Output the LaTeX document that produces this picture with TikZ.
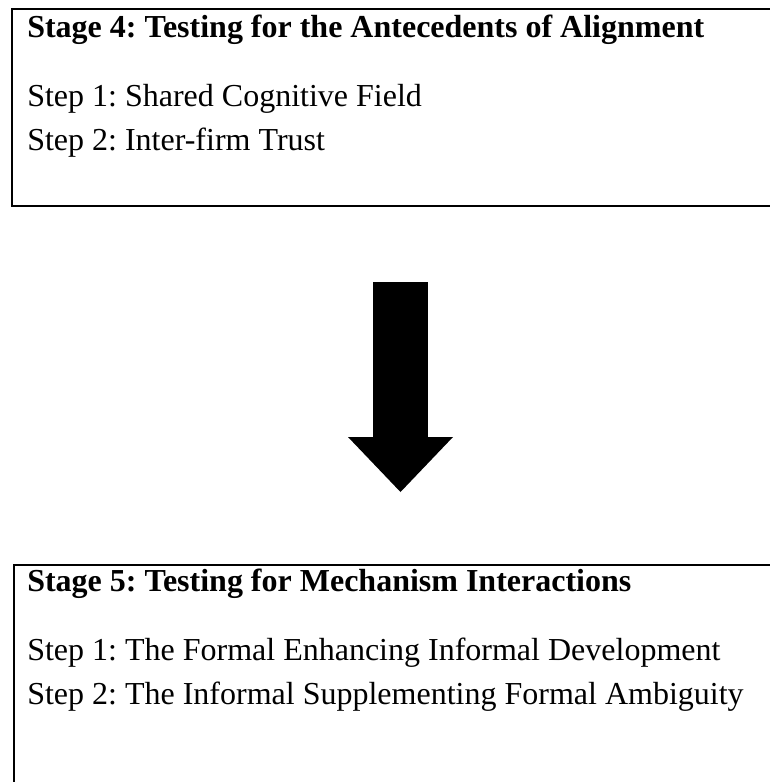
\documentclass[tikz,border=0pt]{standalone}
\usepackage{fontspec}
\setmainfont{Liberation Serif}
\frenchspacing
\usetikzlibrary{arrows.meta,positioning}
\tikzset{stagebox/.style={draw=black,line width=1.4pt,anchor=north west,inner sep=0pt},
 stagehead/.style={anchor=base west,inner sep=0pt,font=\fontsize{24}{29}\selectfont\bfseries},
 stepline/.style={anchor=base west,inner sep=0pt,font=\fontsize{24}{29}\selectfont},
 bigarr/.style={line width=41.25pt,-{Triangle[width=78.75pt,length=41.25pt,line width=0pt]}}}

\begin{document}
\begin{tikzpicture}[x=0.75pt,y=-0.75pt]
\path[use as bounding box,clip] (0,0) rectangle (770,782);
% both boxes run past the right edge
\node[stagebox,minimum width=584pt,minimum height=147.75pt] (s4box) at (11,8) {};
\node[stagehead] (s4) at (27,37) {Stage 4: Testing for the Antecedents of Alignment};
\node[stepline] (s4a) at (27,106) {Step 1: Shared Cognitive Field};
\node[stepline] (s4b) at (27,150) {Step 2: Inter-firm Trust};
\coordinate (flowtop) at (400.5,282);
\coordinate (flowtip) at (400.5,492);
\draw[bigarr] (flowtop)--(flowtip);
\node[stagebox,minimum width=583pt,minimum height=177pt] (s5box) at (13,564) {};
\node[stagehead] (s5) at (27,591) {Stage 5: Testing for Mechanism Interactions};
\node[stepline] (s5a) at (27,660) {Step 1: The Formal Enhancing Informal Development};
\node[stepline] (s5b) at (27,704) {Step 2: The Informal Supplementing Formal Ambiguity};
\end{tikzpicture}
\end{document}
